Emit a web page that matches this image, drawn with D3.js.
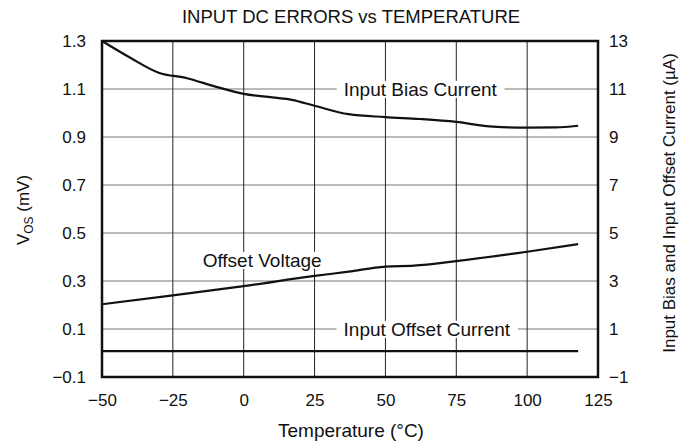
<!DOCTYPE html>
<html>
<head>
<meta charset="utf-8">
<script src="https://cdn.jsdelivr.net/npm/d3@7"></script>
<style>
  body { margin: 0; background: #fff; }
  text { font-family: "Liberation Sans", Arial, sans-serif; fill: #111; }
</style>
</head>
<body>
<div id="chart"></div>
<script>
const margin = { top: 41, right: 95, bottom: 68, left: 102 }
const W = 693
const H = 445
const width = W - margin.left - margin.right
const height = H - margin.top - margin.bottom

// temperature (°C)
const xTicks = [-50, -25, 0, 25, 50, 75, 100, 125]
const leftTicks = [-0.1, 0.1, 0.3, 0.5, 0.7, 0.9, 1.1, 1.3]
const rightTicks = [-1, 1, 3, 5, 7, 9, 11, 13]

// input bias current (µA, right axis)
const biasTemp = [-50, -40, -30, -20, -10, 0, 10, 17, 25, 37, 50, 62, 75, 88, 100, 110, 118]
const biasVal = [13.0, 12.3, 11.68, 11.45, 11.1, 10.8, 10.65, 10.55, 10.3, 9.95, 9.83, 9.75, 9.63, 9.43, 9.39, 9.4, 9.47]

// offset voltage (mV, left axis)
const vosTemp = [-50, -25, 0, 25, 37, 50, 60, 75, 100, 118]
const vosVal = [0.203, 0.24, 0.279, 0.321, 0.339, 0.36, 0.364, 0.383, 0.422, 0.454]

// input offset current (µA, right axis)
const iosTemp = [-50, 0, 50, 118]
const iosVal = [0.08, 0.08, 0.08, 0.08]

const x = d3.scaleLinear().domain([-50, 125]).range([0, width])
const yL = d3.scaleLinear().domain([-0.1, 1.3]).range([height, 0])
const yR = d3.scaleLinear().domain([-1, 13]).range([height, 0])

const svg = d3.select('#chart')
  .append('svg')
  .attr('width', W)
  .attr('height', H)

svg.append('text')
  .attr('x', 351)
  .attr('y', 23)
  .attr('text-anchor', 'middle')
  .style('font-size', '18.5px')
  .text('INPUT DC ERRORS vs TEMPERATURE')

const g = svg.append('g')
  .attr('transform', `translate(${margin.left}, ${margin.top})`)

// grid
g.append('g')
  .selectAll('line')
  .data(leftTicks.slice(1, -1))
  .join('line')
  .attr('x1', 0)
  .attr('x2', width)
  .attr('y1', (d) => yL(d))
  .attr('y2', (d) => yL(d))
  .attr('stroke', '#777')
  .attr('stroke-width', 1)

g.append('g')
  .selectAll('line')
  .data(xTicks.slice(1, -1))
  .join('line')
  .attr('x1', (d) => x(d))
  .attr('x2', (d) => x(d))
  .attr('y1', 0)
  .attr('y2', height)
  .attr('stroke', '#222')
  .attr('stroke-width', 1)

// labels with white boxes over the grid
const labels = [
  { text: 'Input Bias Current', t: 62.3, v: 1.1 },
  { text: 'Offset Voltage', t: 6.5, v: 0.3875 },
  { text: 'Input Offset Current', t: 64.6, v: 0.1 }
]

labels.forEach((l) => {
  const lg = g.append('g')
  const txt = lg.append('text')
    .attr('x', x(l.t))
    .attr('y', yL(l.v))
    .attr('dy', '0.36em')
    .attr('text-anchor', 'middle')
    .style('font-size', '19px')
    .text(l.text)
  const bb = txt.node().getBBox()
  lg.insert('rect', 'text')
    .attr('x', bb.x - 7)
    .attr('y', bb.y + 2)
    .attr('width', bb.width + 14)
    .attr('height', bb.height - 4)
    .attr('fill', '#fff')
})

// series
const line = (ys) => d3.line()
  .x((d) => x(d[0]))
  .y((d) => ys(d[1]))
  .curve(d3.curveMonotoneX)

g.append('path')
  .datum(d3.zip(biasTemp, biasVal))
  .attr('d', line(yR))
  .attr('fill', 'none')
  .attr('stroke', '#111')
  .attr('stroke-width', 2.2)

g.append('path')
  .datum(d3.zip(vosTemp, vosVal))
  .attr('d', line(yL))
  .attr('fill', 'none')
  .attr('stroke', '#111')
  .attr('stroke-width', 2.2)

g.append('path')
  .datum(d3.zip(iosTemp, iosVal))
  .attr('d', line(yR))
  .attr('fill', 'none')
  .attr('stroke', '#111')
  .attr('stroke-width', 2.2)

// frame
g.append('rect')
  .attr('width', width)
  .attr('height', height)
  .attr('fill', 'none')
  .attr('stroke', '#111')
  .attr('stroke-width', 2.5)

// axes
const xAxis = g.append('g')
  .attr('transform', `translate(0, ${height})`)
  .call(d3.axisBottom(x).tickValues(xTicks).tickSize(0).tickPadding(17)
    .tickFormat((d) => String(d).replace('-', '\u2212')))

const lAxis = g.append('g')
  .call(d3.axisLeft(yL).tickValues(leftTicks).tickSize(0).tickPadding(16)
    .tickFormat((d) => d3.format('.1f')(d).replace('-', '\u2212')))

const rAxis = g.append('g')
  .attr('transform', `translate(${width}, 0)`)
  .call(d3.axisRight(yR).tickValues(rightTicks).tickSize(0).tickPadding(11)
    .tickFormat((d) => String(d).replace('-', '\u2212')))

;[xAxis, lAxis, rAxis].forEach((a) => {
  a.select('.domain').remove()
  a.selectAll('text')
    .style('font-size', '17px')
    .style('font-family', '"Liberation Sans", Arial, sans-serif')
    .attr('fill', '#111')
})

svg.append('text')
  .attr('x', 351)
  .attr('y', 437)
  .attr('text-anchor', 'middle')
  .style('font-size', '19px')
  .text('Temperature (\u00b0C)')

const vos = svg.append('text')
  .attr('transform', 'translate(29, 210) rotate(-90)')
  .attr('text-anchor', 'middle')
  .style('font-size', '17px')
vos.append('tspan').text('V')
vos.append('tspan').attr('dy', 4).style('font-size', '12px').text('OS')
vos.append('tspan').attr('dy', -4).text(' (mV)')

svg.append('text')
  .attr('transform', 'translate(675, 203) rotate(-90)')
  .attr('text-anchor', 'middle')
  .style('font-size', '17px')
  .text('Input Bias and Input Offset Current (\u00b5A)')
</script>
</body>
</html>
